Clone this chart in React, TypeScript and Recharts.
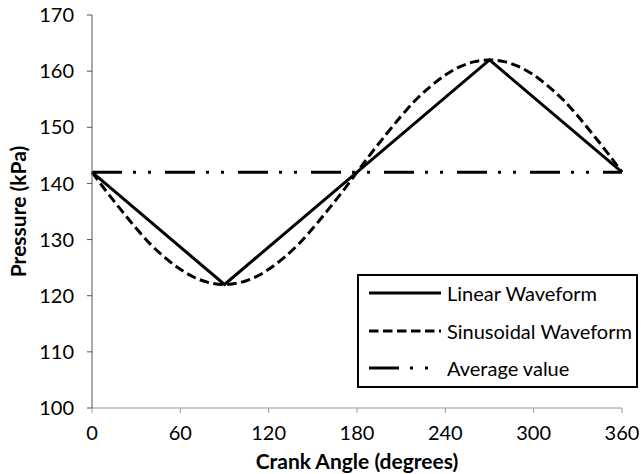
import React from 'react';
import { LineChart, Line, XAxis, YAxis, Legend } from 'recharts';

// Crank angle samples (degrees) and the pressures (kPa)
const crankAngles = [0, 10, 20, 30, 40, 50, 60, 70, 80, 90, 100, 110, 120, 130, 140, 150, 160, 170, 180,
  190, 200, 210, 220, 230, 240, 250, 260, 270, 280, 290, 300, 310, 320, 330, 340, 350, 360];
const sinusoidalPressure = [142, 138.5, 135.2, 132, 129.1, 126.7, 124.7, 123.2, 122.3, 122, 122.3, 123.2, 124.7,
  126.7, 129.1, 132, 135.2, 138.5, 142, 145.5, 148.8, 152, 154.9, 157.3, 159.3, 160.8, 161.7, 162, 161.7,
  160.8, 159.3, 157.3, 154.9, 152, 148.8, 145.5, 142];

const linearAngles = [0, 90, 270, 360];
const linearPressure = [142, 122, 162, 142];

const averageAngles = [0, 360];
const averagePressure = [142, 142];

const xTicks = [0, 60, 120, 180, 240, 300, 360];
const yTicks = [100, 110, 120, 130, 140, 150, 160, 170];

const seriesNames = ['Linear Waveform', 'Sinusoidal Waveform', 'Average value'];
const xTitle = 'Crank Angle (degrees)';
const yTitle = 'Pressure (kPa)';

const linearData = linearAngles.map((a, i) => ({ angle: a, pressure: linearPressure[i] }));
const sinData = crankAngles.map((a, i) => ({ angle: a, pressure: sinusoidalPressure[i] }));
const avgData = averageAngles.map((a, i) => ({ angle: a, pressure: averagePressure[i] }));

const FONT = 'Lato, "Open Sans", sans-serif';
const LINE_W = 3;
const dashes = [undefined, '9.5 4.5', '30 11 3 12 3 14'];

const LegendBox = () => (
  <div
    style={{
      width: 281,
      height: 114,
      boxSizing: 'border-box',
      border: '2px solid #000',
      background: '#fff',
      position: 'relative',
      fontFamily: FONT,
      fontSize: 20,
      color: '#000',
    }}
  >
    {seriesNames.map((name, i) => (
      <div
        key={name}
        style={{
          position: 'absolute',
          left: 10,
          top: 17 + i * 37.5 - 12,
          height: 24,
          display: 'flex',
          alignItems: 'center',
          whiteSpace: 'nowrap',
        }}
      >
        <svg width={72} height={10} style={{ display: 'block' }}>
          <line x1={0} y1={5} x2={72} y2={5} stroke="#000" strokeWidth={LINE_W} strokeDasharray={dashes[i]} />
        </svg>
        <span style={{ marginLeft: 6 }}>{name}</span>
      </div>
    ))}
  </div>
);

export default function App() {
  return (
    <div style={{ position: 'absolute', left: 0, top: 0, width: 641, height: 474, background: '#fff' }}>
      <LineChart width={641} height={474} margin={{ top: 15, right: 19, bottom: 0, left: 0 }}>
        <XAxis
          dataKey="angle"
          type="number"
          domain={[0, 360]}
          ticks={xTicks}
          height={66}
          stroke="#999"
          tickSize={5}
          tickMargin={13}
          tick={{ fill: '#000', fontSize: 20, fontFamily: FONT }}
          label={{ value: xTitle, position: 'insideBottom', offset: 5, fill: '#000', fontSize: 21, fontWeight: 700, fontFamily: FONT }}
        />
        <YAxis
          type="number"
          domain={[100, 170]}
          ticks={yTicks}
          width={92}
          stroke="#555"
          tickSize={5}
          tickMargin={13}
          tick={{ fill: '#000', fontSize: 20, fontFamily: FONT }}
          label={{ value: yTitle, angle: -90, position: 'insideLeft', offset: 19, fill: '#000', fontSize: 21, fontWeight: 700, fontFamily: FONT, style: { textAnchor: 'middle' } }}
        />
        <Legend
          layout="vertical"
          align="center"
          verticalAlign="middle"
          content={() => <LegendBox />}
          wrapperStyle={{ left: 357, top: 274, width: 281, height: 114 }}
        />
        <Line data={avgData} dataKey="pressure" name={seriesNames[2]} stroke="#000" strokeWidth={LINE_W}
          strokeDasharray={dashes[2]} dot={false} activeDot={false} isAnimationActive={false} />
        <Line data={sinData} dataKey="pressure" name={seriesNames[1]} stroke="#000" strokeWidth={LINE_W}
          strokeDasharray={dashes[1]} type="monotone" dot={false} activeDot={false} isAnimationActive={false} />
        <Line data={linearData} dataKey="pressure" name={seriesNames[0]} stroke="#000" strokeWidth={LINE_W}
          dot={false} activeDot={false} isAnimationActive={false} />
      </LineChart>
    </div>
  );
}
